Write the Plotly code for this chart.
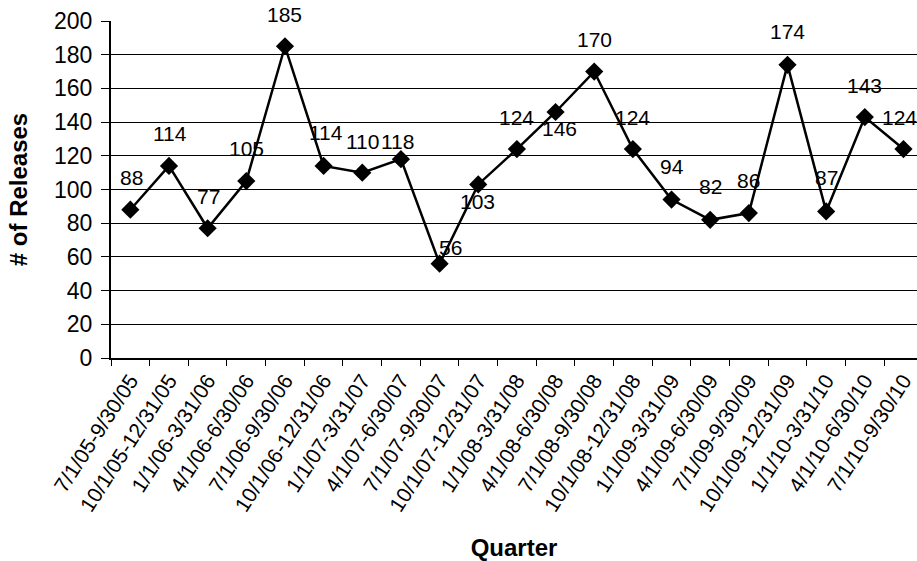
import plotly.graph_objects as go

# Quarterly release counts
quarters = [
    "7/1/05-9/30/05", "10/1/05-12/31/05", "1/1/06-3/31/06", "4/1/06-6/30/06",
    "7/1/06-9/30/06", "10/1/06-12/31/06", "1/1/07-3/31/07", "4/1/07-6/30/07",
    "7/1/07-9/30/07", "10/1/07-12/31/07", "1/1/08-3/31/08", "4/1/08-6/30/08",
    "7/1/08-9/30/08", "10/1/08-12/31/08", "1/1/09-3/31/09", "4/1/09-6/30/09",
    "7/1/09-9/30/09", "10/1/09-12/31/09", "1/1/10-3/31/10", "4/1/10-6/30/10",
    "7/1/10-9/30/10",
]
releases = [88, 114, 77, 105, 185, 114, 110, 118, 56, 103, 124, 146,
            170, 124, 94, 82, 86, 174, 87, 143, 124]
y_ticks = [0, 20, 40, 60, 80, 100, 120, 140, 160, 180, 200]

# Label offsets in pixels (dx, dy) relative to each marker
label_dx = [1, 1, 1, 0, 0, 2, 0, -3, 11, -1, 0, 4,
            0, 0, 0, 0, 0, 0, 0, 0, -4]
label_dy = [32, 32, 32, 33, 32, 33, 31, 18, 16, -17, 32, -17,
            32, 32, 33, 33, 33, 33, 34, 32, 32]

FONT = "Liberation Sans, Arial, sans-serif"

fig = go.Figure()
fig.add_trace(go.Scatter(
    x=quarters, y=releases, mode="lines+markers",
    line=dict(color="black", width=2.5),
    marker=dict(symbol="diamond", size=14, color="black"),
    showlegend=False, hoverinfo="x+y",
))

for q, v, dx, dy in zip(quarters, releases, label_dx, label_dy):
    fig.add_annotation(
        x=q, y=v, text=str(v), showarrow=False,
        xshift=dx, yshift=dy, xanchor="center", yanchor="middle",
        font=dict(family=FONT, size=21, color="black"),
    )

fig.update_layout(
    width=917, height=561,
    margin=dict(l=111, r=0, t=21, b=203),
    paper_bgcolor="white", plot_bgcolor="white",
    font=dict(family=FONT, color="black"),
    xaxis=dict(
        type="category", range=[-0.5, 20.35],
        tickson="boundaries", ticks="outside", ticklen=6, tickcolor="black",
        tickangle=-57, tickfont=dict(size=21),
        showline=True, linecolor="black", linewidth=2,
        showgrid=False, zeroline=False,
        title=dict(text="<b>Quarter</b>", font=dict(size=24), standoff=24),
    ),
    yaxis=dict(
        range=[0, 200], tickvals=y_ticks,
        ticks="outside", ticklen=8, tickcolor="black",
        tickfont=dict(size=23), ticklabelstandoff=4,
        showline=True, linecolor="black", linewidth=2,
        showgrid=True, gridcolor="black", gridwidth=1.3,
        zeroline=False,
        title=dict(text="<b># of Releases</b>", font=dict(size=24), standoff=20),
    ),
)

fig.write_html("out.html")
